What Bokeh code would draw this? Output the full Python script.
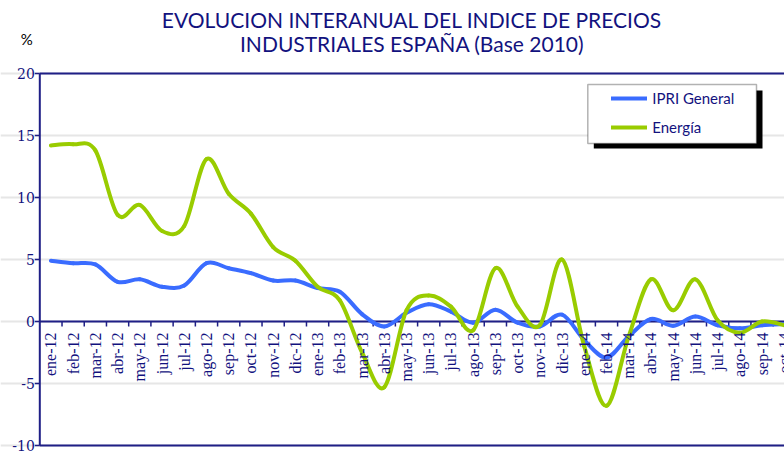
import numpy as np
from bokeh.plotting import figure
from bokeh.models import (Range1d, Legend, LegendItem, BoxAnnotation,
                          FixedTicker, ColumnDataSource)
from bokeh.core.properties import value
from bokeh.embed import file_html
from bokeh.resources import INLINE

months = ["ene-12", "feb-12", "mar-12", "abr-12", "may-12", "jun-12", "jul-12",
          "ago-12", "sep-12", "oct-12", "nov-12", "dic-12",
          "ene-13", "feb-13", "mar-13", "abr-13", "may-13", "jun-13", "jul-13",
          "ago-13", "sep-13", "oct-13", "nov-13", "dic-13",
          "ene-14", "feb-14", "mar-14", "abr-14", "may-14", "jun-14", "jul-14",
          "ago-14", "sep-14", "oct-14"]
ipri = [4.9, 4.7, 4.6, 3.2, 3.4, 2.8, 2.9, 4.7, 4.3, 3.9, 3.3, 3.3,
        2.7, 2.4, 0.6, -0.4, 0.7, 1.4, 0.8, -0.1, 0.95, -0.1, -0.4, 0.55,
        -1.5, -2.9, -1.2, 0.2, -0.35, 0.4, -0.3, -0.55, -0.3, -0.2]
energia = [14.2, 14.3, 13.8, 8.6, 9.4, 7.3, 7.7, 13.1, 10.3, 8.7, 6.0, 4.9,
           2.8, 1.7, -2.5, -5.3, 0.9, 2.1, 1.2, -0.7, 4.3, 1.2, -0.3, 5.0,
           -2.0, -6.8, -1.2, 3.4, 0.9, 3.4, 0.1, -0.9, 0.0, -0.3]
y_ticks = [-10, -5, 0, 5, 10, 15, 20]
title_lines = ["EVOLUCION INTERANUAL DEL INDICE DE PRECIOS",
               "INDUSTRIALES ESPAÑA (Base 2010)"]
unit_label = "%"

NAVY = "#12127e"
AXIS = "#1f1f86"
BLUE = "#3a6cff"
GREEN = "#99cc00"

W, H = 784, 451
AX_LEFT, AX_TOP, AX_BOTTOM = 39.3, 73, 445          # pixel layout of the axes box
X_END = 33.51
px_x = (W - AX_LEFT) / X_END                          # pixels per month
px_y = (AX_BOTTOM - AX_TOP) / (y_ticks[-1] - y_ticks[0])
y_lo, y_hi = y_ticks[0], y_ticks[-1]


def bezier_source(vals, t=1.0 / 6.0):
    n = len(vals)
    x = np.arange(n) + 0.5
    y = np.asarray(vals, dtype=float)
    xp = np.concatenate([[x[0]], x, [x[-1]]])
    yp = np.concatenate([[y[0]], y, [y[-1]]])
    cx0 = x[:-1] + t * (xp[2:n + 1] - xp[0:n - 1])
    cy0 = y[:-1] + t * (yp[2:n + 1] - yp[0:n - 1])
    cx1 = x[1:] - t * (xp[3:n + 2] - xp[1:n])
    cy1 = y[1:] - t * (yp[3:n + 2] - yp[1:n])
    return ColumnDataSource(dict(x0=x[:-1], y0=y[:-1], x1=x[1:], y1=y[1:],
                                 cx0=cx0, cy0=cy0, cx1=cx1, cy1=cy1))


p = figure(width=W, height=H,
           x_range=Range1d(-AX_LEFT / px_x, X_END),
           y_range=Range1d(y_hi - (H - AX_TOP) / px_y, y_hi + AX_TOP / px_y),
           output_backend="svg", toolbar_location=None,
           min_border_left=0, min_border_right=0, min_border_bottom=0,
           min_border_top=0)
p.outline_line_color = None
p.background_fill_color = "white"
p.border_fill_color = "white"
p.axis.visible = False
p.xgrid.visible = False
p.title.visible = False
p.ygrid.ticker = FixedTicker(ticks=y_ticks)
p.ygrid.bounds = (0, X_END)
p.ygrid.grid_line_color = "#e6e6e6"
p.ygrid.grid_line_width = 2

# box lines: top and bottom of the plot area, and the zero line (category axis)
p.segment(x0=[0, 0], y0=[y_hi, y_lo], x1=[X_END, X_END], y1=[y_hi, y_lo],
          line_color=AXIS, line_width=2)
p.segment(x0=[0], y0=[0], x1=[X_END], y1=[0], line_color=AXIS, line_width=2)

# value axis: line, ticks and labels
p.segment(x0=[0], y0=[y_lo], x1=[0], y1=[y_hi], line_color=AXIS, line_width=2)
p.segment(x0=np.full(len(y_ticks), -5 / px_x), y0=y_ticks,
          x1=np.zeros(len(y_ticks)), y1=y_ticks, line_color=AXIS,
          line_width=1.5)
p.text(x=np.zeros(len(y_ticks)), y=y_ticks, text=[str(v) for v in y_ticks],
       x_offset=-5, text_align="right", text_baseline="middle",
       text_font=value("DejaVu Serif"), text_font_size="14px",
       text_color=NAVY)

# category ticks on the zero line
bounds = np.arange(1, len(months))
p.segment(x0=bounds, y0=np.zeros(len(bounds)), x1=bounds,
          y1=np.full(len(bounds), -5 / px_y), line_color=AXIS, line_width=1.5)

r_ipri = p.bezier(x0="x0", y0="y0", x1="x1", y1="y1", cx0="cx0", cy0="cy0",
                  cx1="cx1", cy1="cy1", source=bezier_source(ipri),
                  line_color=BLUE, line_width=4, line_cap="round")
r_en = p.bezier(x0="x0", y0="y0", x1="x1", y1="y1", cx0="cx0", cy0="cy0",
                cx1="cx1", cy1="cy1", source=bezier_source(energia),
                line_color=GREEN, line_width=4, line_cap="round")

# rotated month labels below the zero line
centers = np.arange(len(months)) + 0.5
p.text(x=centers, y=np.zeros(len(months)), text=months, angle=np.pi / 2,
       text_align="right", text_baseline="middle", y_offset=11,
       text_font=value("Liberation Serif"), text_font_size="16px",
       text_color=NAVY)

# two-line centred title above the plot area
p.text(x=[X_END / 2, X_END / 2], y=[y_hi, y_hi], text=title_lines,
       y_offset=[-54, -30.5], text_align="center", text_baseline="middle",
       text_font=value("Lato"), text_font_size="21px", text_color=NAVY)

# "%" unit label above the value axis
p.text(x=[0], y=[y_hi], text=[unit_label], x_offset=-19, y_offset=-35,
       text_align="left", text_baseline="middle",
       text_font=value("Lato"), text_font_size="15px", text_color="black")

# legend box with shadow (screen units from the bottom-left corner)
p.add_layout(BoxAnnotation(left=593.3, right=762, top=361, bottom=303,
                           left_units="screen", right_units="screen",
                           top_units="screen", bottom_units="screen",
                           fill_color="black", fill_alpha=1,
                           line_color=None))
p.add_layout(BoxAnnotation(left=587.3, right=756, top=367, bottom=308,
                           left_units="screen", right_units="screen",
                           top_units="screen", bottom_units="screen",
                           fill_color="white", fill_alpha=1,
                           line_color="black", line_width=1.5))
legend = Legend(items=[LegendItem(label="IPRI General", renderers=[r_ipri]),
                       LegendItem(label="Energía", renderers=[r_en])],
                location=(611.3, 314), padding=0, margin=0, spacing=9,
                glyph_width=36, glyph_height=20, label_height=20,
                label_standoff=5, background_fill_alpha=0,
                border_line_color=None, label_text_font="Lato",
                label_text_font_size="15px", label_text_color=NAVY)
p.add_layout(legend)

open("out.html", "w").write(file_html(p, INLINE))
